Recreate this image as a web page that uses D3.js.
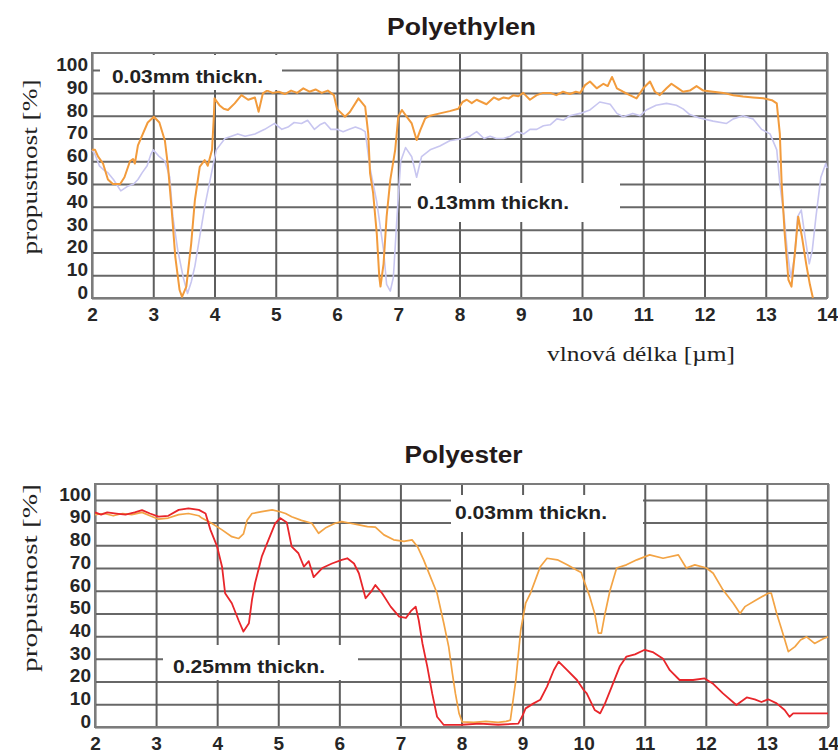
<!DOCTYPE html>
<html>
<head>
<meta charset="utf-8">
<script src="https://cdn.jsdelivr.net/npm/d3@7"></script>
<style>
  body { margin: 0; background: #fff; }
  svg { display: block; }
</style>
</head>
<body>
<div id="chart"></div>
<script>
// wavelength ticks [µm] and transmission ticks [%]
var xTicks = [2, 3, 4, 5, 6, 7, 8, 9, 10, 11, 12, 13, 14]
var yTicks = [0, 10, 20, 30, 40, 50, 60, 70, 80, 90, 100]

// Polyethylen, 0.03 mm  [wavelength, transmission]
var pe003 = [[2.00,65],[2.05,65],[2.10,62],[2.18,59],[2.26,52],[2.34,50],[2.46,50],[2.53,53],[2.62,60],[2.67,61],[2.70,59],
  [2.75,67],[2.83,72],[2.91,77],[3.01,79.5],[3.10,77],[3.19,69],[3.24,58],[3.30,39],[3.36,18],[3.43,3.5],[3.47,0.5],
  [3.54,5],[3.62,24],[3.68,43],[3.76,57.6],[3.84,60.5],[3.89,58],[3.96,65],[3.99,80],[4.00,87.6],[4.08,84.6],[4.15,83],
  [4.22,82.5],[4.33,85.4],[4.44,89],[4.55,87],[4.66,88],[4.72,81.7],[4.79,89.8],[4.86,91],[4.95,90],[5.05,90.5],
  [5.15,89.5],[5.25,91],[5.35,90],[5.45,92],[5.55,90.5],[5.65,91.5],[5.75,90],[5.85,91],[5.95,89],[6.00,83],
  [6.13,79.5],[6.21,81.6],[6.35,87.6],[6.46,84],[6.51,72],[6.54,54.7],[6.59,46],[6.65,28],[6.69,9.4],[6.71,5],
  [6.76,15],[6.81,35.7],[6.87,51.8],[6.95,65],[7.00,79.5],[7.06,82.5],[7.14,79.5],[7.22,76.6],[7.30,69.3],[7.36,73.7],
  [7.44,78.8],[7.52,80],[7.68,81],[7.84,82],[7.98,83],[8.05,86],[8.12,87],[8.20,85.5],[8.28,87],[8.36,86],[8.44,85],
  [8.56,88],[8.64,87],[8.72,88],[8.80,87.5],[8.88,89],[8.96,88.5],[9.04,90],[9.15,87],[9.26,89],[9.37,90],[9.48,90],
  [9.58,89],[9.69,90.5],[9.80,89.5],[9.90,90.5],[9.97,90],[10.05,93.4],[10.13,95],[10.24,92],[10.35,94],[10.42,93],
  [10.49,97],[10.57,92],[10.67,90.5],[10.78,89],[10.89,87.6],[11.00,92],[11.11,95],[11.19,90.5],[11.27,89],[11.38,92],
  [11.46,94],[11.57,92],[11.65,90.5],[11.76,91],[11.87,93],[11.98,91],[12.14,90.5],[12.31,90],[12.47,89],[12.63,88.4],
  [12.79,88],[12.96,87.6],[13.10,86.8],[13.18,85.4],[13.23,72],[13.26,50],[13.31,28],[13.37,8],[13.42,5],[13.48,21],
  [13.53,35.7],[13.59,27],[13.66,15],[13.72,6],[13.77,0]]

// Polyethylen, 0.13 mm
var pe013 = [[2.00,65],[2.05,63],[2.12,58],[2.20,56],[2.26,55],[2.35,52],[2.47,47],[2.58,49],[2.68,50],[2.75,52],
  [2.82,55],[2.90,58],[2.96,63],[3.00,65],[3.10,62],[3.19,60],[3.27,53],[3.32,35.7],[3.40,21],[3.49,9],[3.56,2],
  [3.62,7],[3.68,14],[3.76,27],[3.84,40],[3.95,54.7],[4.03,65],[4.17,70],[4.38,72],[4.50,71],[4.66,72],[4.82,74],
  [4.98,76.6],[5.10,74],[5.20,75],[5.30,77],[5.42,76.6],[5.52,78],[5.63,74],[5.72,76],[5.80,77],[5.90,74],[6.00,74],
  [6.10,73],[6.20,74],[6.30,75],[6.40,74],[6.46,73],[6.54,57],[6.65,42],[6.76,21],[6.81,6],[6.87,3],[6.92,9],
  [6.98,35.7],[7.04,60],[7.12,66],[7.22,62],[7.30,53],[7.38,62],[7.52,65],[7.68,66.7],[7.84,69],[8.06,70],[8.17,71],
  [8.28,73],[8.40,70],[8.50,71],[8.60,70],[8.72,70],[8.83,71],[8.94,73],[9.05,72],[9.15,74],[9.26,74],[9.37,75.6],
  [9.48,76],[9.59,78.6],[9.70,78],[9.80,80],[9.97,81],[10.13,82.5],[10.29,86],[10.46,85],[10.57,81],[10.67,79.5],
  [10.83,81],[10.95,80],[11.05,82.5],[11.21,84.6],[11.38,85.4],[11.54,84.6],[11.65,83],[11.76,80.5],[11.92,79],
  [12.14,77.6],[12.36,76.6],[12.47,78.6],[12.63,80],[12.79,78.6],[12.93,74],[13.07,72],[13.18,65],[13.23,50],
  [13.30,35.7],[13.35,21],[13.41,9],[13.47,18],[13.52,35.7],[13.58,38.6],[13.64,27],[13.71,15],[13.76,21],
  [13.82,35.7],[13.90,53],[13.98,59],[14.00,57]]

// Polyester, 0.03 mm
var pet003 = [[2.00,93.5],[2.15,94],[2.30,93],[2.45,94],[2.60,93.5],[2.77,94.5],[2.90,93],[3.04,91.5],[3.20,92],
  [3.37,93.5],[3.53,94],[3.70,93],[3.75,92],[3.91,89.7],[4.08,86.8],[4.24,83.8],[4.35,83],[4.43,85],[4.49,91],
  [4.57,94],[4.73,94.8],[4.90,95.6],[5.03,94.8],[5.12,94],[5.22,92.6],[5.38,91],[5.55,89.7],[5.66,85.3],[5.77,87.6],
  [5.93,89.7],[6.04,90.4],[6.18,89.7],[6.32,89],[6.46,88.2],[6.59,88],[6.73,84.6],[6.89,82.4],[7.06,81.7],[7.19,82.4],
  [7.28,79.4],[7.38,73.6],[7.49,66.2],[7.60,58.9],[7.71,45.7],[7.79,35.4],[7.85,23.7],[7.90,14.8],[7.96,6],[8.01,2.3],
  [8.20,2],[8.40,2.5],[8.60,2],[8.73,2.5],[8.80,3],[8.89,20.7],[8.97,42.7],[9.05,54.5],[9.13,59],[9.21,64.8],
  [9.29,70.6],[9.40,74.3],[9.57,73.6],[9.73,71.4],[9.89,69],[9.96,68],[10.00,64.8],[10.10,57.4],[10.18,50],
  [10.24,41.3],[10.29,41.3],[10.35,50],[10.43,60],[10.54,70],[10.70,71.4],[10.87,73.6],[11.08,75.8],[11.30,74.3],
  [11.55,75.8],[11.68,70],[11.82,71.4],[12.01,70],[12.12,67.7],[12.28,60.4],[12.45,54.5],[12.56,50],[12.64,53],
  [12.83,56],[13.02,58.9],[13.07,59],[13.16,50],[13.26,41.3],[13.35,33.2],[13.46,35.4],[13.55,38.3],[13.65,39.7],
  [13.78,36.8],[13.93,39],[14.00,39.7]]

// Polyester, 0.25 mm
var pet025 = [[2.00,94.5],[2.10,93.5],[2.20,94.5],[2.35,94],[2.50,93.5],[2.65,94.5],[2.77,95.5],[2.90,94],[3.04,92.6],
  [3.20,93],[3.37,95.6],[3.53,96.3],[3.70,95.6],[3.81,94],[3.89,86.8],[4.00,79.4],[4.08,70.6],[4.13,58.9],[4.24,54.5],
  [4.35,47],[4.43,42],[4.52,45.7],[4.57,56],[4.62,63.3],[4.73,75],[4.84,82.4],[4.95,89.7],[5.03,92],[5.14,90],
  [5.22,79.4],[5.33,76.5],[5.42,70.6],[5.50,73],[5.58,66],[5.72,70],[5.88,72],[6.04,73.6],[6.13,74.3],[6.24,72],
  [6.32,67.7],[6.43,56.7],[6.52,59.6],[6.59,62.5],[6.70,58.9],[6.84,53],[6.98,48.6],[7.09,48],[7.17,51],[7.25,53],
  [7.30,47],[7.36,36.9],[7.44,26.6],[7.52,14.8],[7.60,4.5],[7.71,0.9],[8.00,1],[8.30,1.5],[8.60,1],[8.93,1.5],
  [8.99,4.5],[9.05,8.2],[9.18,10.4],[9.29,12],[9.40,17.8],[9.51,25],[9.59,28.8],[9.73,25],[9.89,20.7],[10.00,16.3],
  [10.05,14.8],[10.18,7.5],[10.27,6],[10.35,10.4],[10.46,17.8],[10.59,26.6],[10.70,31],[10.84,32],[11.00,34],
  [11.13,33],[11.30,30],[11.41,25],[11.57,20.7],[11.79,20.7],[11.98,21.4],[12.12,19],[12.28,14.8],[12.50,9.7],
  [12.67,13],[12.80,12.2],[12.91,11],[13.02,12.2],[13.16,10.4],[13.29,7.5],[13.37,4.5],[13.43,6],[14.00,6]]

var svg = d3.select('#chart')
    .append('svg')
    .attr('width', 838)
    .attr('height', 755)

var sans = 'Liberation Sans, Arial, sans-serif'
var serif = 'Liberation Serif, Times New Roman, serif'

var panels = [
    {
        title: 'Polyethylen', titleY: 35, titleLen: 149,
        left: 92, right: 827, top: 53, bottom: 298, yMax: 107.5,
        yTitleY: 167, yTitleLen: 175,
        series: [
            {data: pe013, color: '#c8c6f0', width: 1.6},
            {data: pe003, color: '#f29b3c', width: 2}
        ],
        notes: [
            {text: '0.03mm thickn.', x: 112, y: 83, len: 151, box: [100, 55, 182, 35]},
            {text: '0.13mm thickn.', x: 417, y: 209, len: 152, box: [411, 183, 209, 39]}
        ],
        xTitle: true
    },
    {
        title: 'Polyester', titleY: 463, titleLen: 118,
        left: 95, right: 828, top: 484, bottom: 727, yMax: 107,
        yTitleY: 578, yTitleLen: 188,
        series: [
            {data: pet003, color: '#f3a445', width: 1.7},
            {data: pet025, color: '#e8262b', width: 1.8}
        ],
        notes: [
            {text: '0.03mm thickn.', x: 455, y: 519, len: 152, box: [451, 495, 192, 37]},
            {text: '0.25mm thickn.', x: 173, y: 673, len: 152, box: [163, 645, 195, 35]}
        ],
        xTitle: false
    }
]

panels.forEach(drawPanel)

function drawPanel(p) {
    var width = p.right - p.left
    var height = p.bottom - p.top

    var xScale = d3.scaleLinear().domain([2, 14]).range([0, width])
    var yScale = d3.scaleLinear().domain([0, p.yMax]).range([height, 0])

    var g = svg.append('g')
        .attr('transform', `translate(${p.left}, ${p.top})`)

    // horizontal grid + y tick labels
    var yAxis = g.append('g')
        .call(d3.axisLeft(yScale).tickValues(yTicks).tickSize(-width).tickPadding(4))
    yAxis.select('.domain').remove()
    yAxis.selectAll('line').attr('stroke', '#676767').attr('stroke-width', 2)
    yAxis.selectAll('text')
        .attr('dy', '0.02em')
        .attr('fill', '#262626')
        .style('font', `bold 19px ${sans}`)

    // vertical grid + x tick labels
    var xAxis = g.append('g')
        .attr('transform', `translate(0, ${height})`)
        .call(d3.axisBottom(xScale).tickValues(xTicks).tickSize(-height).tickPadding(10))
    xAxis.select('.domain').remove()
    xAxis.selectAll('line').attr('stroke', '#5e5e5e').attr('stroke-width', 2)
    xAxis.selectAll('text')
        .attr('fill', '#262626')
        .style('font', `bold 19px ${sans}`)

    // frame
    g.append('rect')
        .attr('width', width)
        .attr('height', height)
        .attr('fill', 'none')
        .attr('stroke', '#7c7c7c')
        .attr('stroke-width', 2)

    // white label boxes over the grid
    p.notes.forEach(function (n) {
        svg.append('rect')
            .attr('x', n.box[0])
            .attr('y', n.box[1])
            .attr('width', n.box[2])
            .attr('height', n.box[3])
            .attr('fill', '#fff')
        svg.append('text')
            .attr('x', n.x)
            .attr('y', n.y)
            .attr('textLength', n.len)
            .attr('lengthAdjust', 'spacingAndGlyphs')
            .attr('fill', '#222')
            .style('font', `bold 18px ${sans}`)
            .text(n.text)
    })

    var lineFunc = d3.line()
        .x(function (d) { return xScale(d[0]) })
        .y(function (d) { return yScale(d[1]) })

    p.series.forEach(function (s) {
        g.append('path')
            .attr('d', lineFunc(s.data))
            .attr('fill', 'none')
            .attr('stroke', s.color)
            .attr('stroke-width', s.width)
            .attr('stroke-linejoin', 'round')
    })

    // titles
    svg.append('text')
        .attr('x', (p.left + p.right) / 2 + 2)
        .attr('y', p.titleY)
        .attr('text-anchor', 'middle')
        .attr('textLength', p.titleLen)
        .attr('lengthAdjust', 'spacingAndGlyphs')
        .attr('fill', '#231a1a')
        .style('font', `bold 23px ${sans}`)
        .text(p.title)

    svg.append('text')
        .attr('transform', `translate(37, ${p.yTitleY}) rotate(-90)`)
        .attr('text-anchor', 'middle')
        .attr('textLength', p.yTitleLen)
        .attr('lengthAdjust', 'spacingAndGlyphs')
        .attr('fill', '#222')
        .style('font', `20px ${serif}`)
        .text('propustnost [%]')

    if (p.xTitle) {
        svg.append('text')
            .attr('x', 547)
            .attr('y', 361)
            .attr('textLength', 188)
            .attr('lengthAdjust', 'spacingAndGlyphs')
            .attr('fill', '#222')
            .style('font', `20px ${serif}`)
            .text('vlnová délka [µm]')
    }
}
</script>
</body>
</html>
